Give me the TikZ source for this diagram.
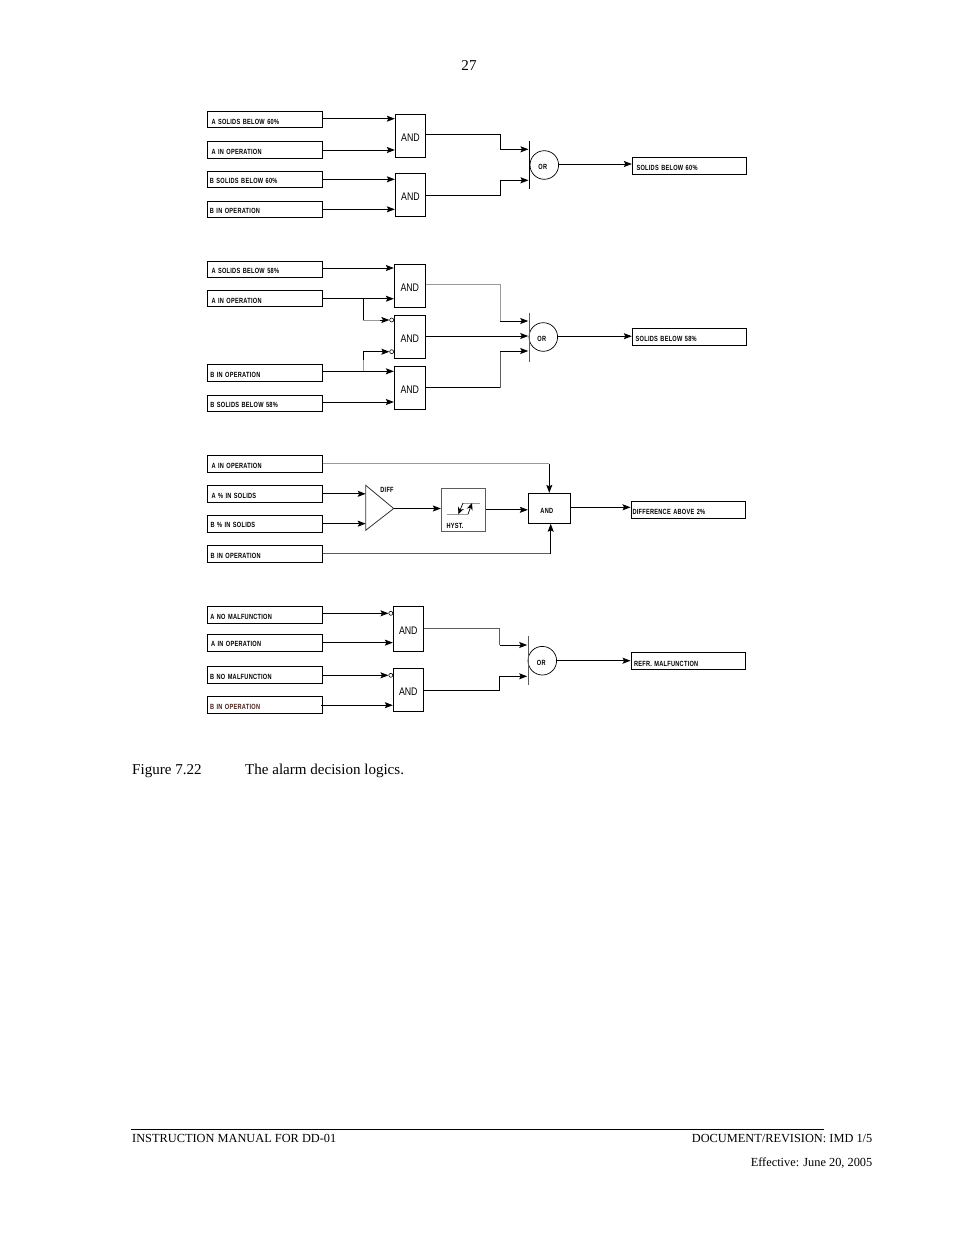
\documentclass[tikz,border=0pt]{standalone}
\usepackage{fontspec}
\setmainfont{Liberation Serif}
\newfontfamily\cadfont{Liberation Sans}[FakeStretch=0.75,LetterSpace=3.5]
\newfontfamily\gatefont{Liberation Sans}[FakeStretch=0.8]
\usetikzlibrary{arrows.meta,calc}
\definecolor{lightwire}{gray}{0.6}
\definecolor{midwire}{gray}{0.36}
\definecolor{brownish}{rgb}{0.28,0.12,0.10}
% name, x1, y1, x2, y2, text offset, text
\newcommand\tagbox[7]{%
  \pgfmathsetmacro\bw{#4-#2}\pgfmathsetmacro\bh{#5-#3}%
  \node[tagnode,minimum width=\bw pt,minimum height=\bh pt,text width=\bw pt] (#1) at ({(#2+#4)/2},{(#3+#5)/2}) {\hspace*{#6pt}#7};}
\newcommand\gatebox[5]{%
  \pgfmathsetmacro\bw{#4-#2}\pgfmathsetmacro\bh{#5-#3}%
  \node[gatenode,minimum width=\bw pt,minimum height=\bh pt] (#1) at ({(#2+#4)/2},{(#3+#5)/2}) {AND};}
\tikzset{
  cadtext/.style={font=\cadfont\bfseries\fontsize{7.5}{8}\selectfont},
  tagnode/.style={cadtext,draw=black,line width=0.9pt,inner xsep=0pt,inner ysep=0pt,align=left,text height=8.6pt,text depth=0pt},
  gatenode/.style={draw=black,line width=0.9pt,inner sep=0pt,text height=11.5pt,text depth=0pt,font=\gatefont\fontsize{11}{12}\selectfont},
  orgate/.style={cadtext,draw=black,line width=0.7pt,circle,inner sep=0pt,minimum size=28.6pt,text height=9.5pt,text depth=0pt},
  wire/.style={draw=black,line width=0.9pt,-{Stealth[length=8pt,width=6pt,inset=1.5pt]}},
  plainwire/.style={draw=black,line width=0.9pt},
  graywire/.style={draw=lightwire,line width=1pt},
  darkgray/.style={draw=midwire,line width=0.9pt},
  barline/.style={draw=black,line width=0.8pt},
  graybar/.style={draw=midwire,line width=0.9pt},
  bubble/.style={draw=black,line width=0.6pt,circle,inner sep=0pt,minimum size=4pt},
  page/.style={font=\fontsize{15.05}{16}\selectfont,inner sep=0pt},
  small/.style={font=\fontsize{12.35}{14}\selectfont,inner sep=0pt},
  hystline/.style={draw=lightwire,line width=1pt},
}
\begin{document}
\begin{tikzpicture}[x=1pt,y=-1pt]
\useasboundingbox (0,0) rectangle (954,1235);
% page text
\node[page] (pnum) at (469,66) {27};
\node[page,anchor=base west] (figno) at (132,774) {Figure 7.22};
\node[page,anchor=base west] (figcap) at (245,774) {The alarm decision logics.};
\coordinate (footl) at (131,1129);
\coordinate (footr) at (824,1129);
\draw[line width=0.8pt] (footl) -- (footr);
\node[small,anchor=base west] (foot1) at (132,1142) {INSTRUCTION MANUAL FOR DD-01};
\node[small,anchor=base east] (foot2) at (872.5,1142) {DOCUMENT/REVISION: IMD 1/5};
\node[small,anchor=base east] (foot3) at (872.5,1166) {Effective: June 20, 2005};

% ---- group 1
\tagbox{a1}{207.3}{111.7}{322.5}{127.7}{4.2}{A SOLIDS BELOW 60\%}
\tagbox{a2}{207.3}{141.7}{322.5}{158.3}{4.2}{A IN OPERATION}
\tagbox{a3}{207.3}{171.3}{322.5}{187.3}{2.6}{B SOLIDS BELOW 60\%}
\tagbox{a4}{207.3}{201.3}{322.5}{217.3}{2.6}{B IN OPERATION}
\gatebox{ga1}{395.3}{114.3}{425.7}{157.3}
\gatebox{ga2}{395.3}{173.3}{425.7}{216}
\node[orgate] (ora) at (544.3,165) {\hspace*{-3pt}OR};
\tagbox{oa}{632.3}{157.3}{746.7}{174.3}{4.2}{SOLIDS BELOW 60\%}
\coordinate (bartopa) at (529.3,140.7);
\coordinate (barbota) at (529.3,189.3);
\draw[barline] (bartopa) -- (barbota);
\coordinate (ina1) at (528.5,149.3);
\coordinate (ina2) at (528.5,180.3);
\draw[wire] ([yshift=1pt]a1.east) -- ([yshift=1pt]a1.east -| ga1.west);
\draw[wire] (a2.east) -- (a2.east -| ga1.west);
\draw[wire] (a3.east) -- (a3.east -| ga2.west);
\draw[wire] (a4.east) -- (a4.east -| ga2.west);
\draw[wire] ([yshift=1.8pt]ga1.east) -| (500.3,149.3) -- (ina1);
\draw[wire] ([yshift=-0.3pt]ga2.east) -| (500.3,180.3) -- (ina2);
\draw[wire] ([yshift=1pt]ora.east) -- ([yshift=1pt]ora.east -| oa.west);

% ---- group 2
\tagbox{b1}{207.3}{261.3}{322.5}{277.3}{4.2}{A SOLIDS BELOW 58\%}
\tagbox{b2}{207.3}{290.7}{322.5}{306.7}{4.2}{A IN OPERATION}
\tagbox{b3}{207.3}{364.7}{322.5}{381.3}{3}{B IN OPERATION}
\tagbox{b4}{207.3}{395.3}{322.5}{411.7}{3}{B SOLIDS BELOW 58\%}
\gatebox{gb1}{394.3}{264.3}{425.3}{307.3}
\gatebox{gb2}{394.3}{315.3}{425.3}{358.3}
\gatebox{gb3}{394.3}{366.3}{425.3}{409.3}
\node[bubble] (bu1) at (391.7,320) {};
\node[bubble] (bu2) at (391.7,351.7) {};
\node[orgate] (orb) at (543.3,337) {\hspace*{-3pt}OR};
\tagbox{ob}{632.3}{328.3}{746.7}{345.3}{3.4}{SOLIDS BELOW 58\%}
\coordinate (bartopb) at (529,312.7);
\coordinate (barbotb) at (529,361.7);
\draw[graybar] (bartopb) -- (barbotb);
\draw[wire] ([yshift=1.3pt]b1.east) -- ([yshift=1.3pt]b1.east -| gb1.west);
\draw[wire] (b2.east) -- (b2.east -| gb1.west);
\draw[wire] ([yshift=1.7pt]b3.east) -- ([yshift=1.7pt]b3.east -| gb3.west);
\draw[wire] ([yshift=1.5pt]b4.east) -- ([yshift=1.5pt]b4.east -| gb3.west);
\coordinate (j1) at (363.3,298.7);
\coordinate (j2) at (363.3,371.3);
\coordinate (j1g) at (380,320);
\coordinate (j2g) at (363.3,360);
\draw[plainwire] (j1) -- (j1 |- bu1);
\draw[graywire] (j1 |- bu1) -- (j1g);
\draw[wire] (j1g) -- (bu1.west);
\draw[graywire] (j2) -- (j2g);
\draw[plainwire] (j2g) -- (j2 |- bu2);
\draw[wire] (j2 |- bu2) -- (bu2.west);
\coordinate (inb1) at (528.2,321);
\coordinate (inb2) at (528.2,336);
\coordinate (inb3) at (528.2,351);
\coordinate (cb1) at (500,321);
\coordinate (cb3) at (500,351);
\draw[graywire] ([yshift=1.5pt]gb1.east) -| (cb1);
\draw[wire] (cb1) -- (inb1);
\draw[wire] ([yshift=0.8pt]gb2.east) -- (inb2);
\draw[plainwire] (gb3.east) -- (gb3.east -| cb3);
\draw[darkgray] (gb3.east -| cb3) -- (cb3);
\draw[wire] (cb3) -- (inb3);
\draw[wire] ([yshift=0.8pt]orb.east) -- ([yshift=0.8pt]orb.east -| ob.west);

% ---- group 3
\tagbox{c1}{207.3}{455.3}{322.5}{472.7}{4.2}{A IN OPERATION}
\tagbox{c2}{207.3}{485.3}{322.5}{502.3}{4.2}{A \% IN SOLIDS}
\tagbox{c3}{207.3}{515.3}{322.5}{532}{3.2}{B \% IN SOLIDS}
\tagbox{c4}{207.3}{545.3}{322.5}{562.7}{3.2}{B IN OPERATION}
\node[draw=black,line width=0.9pt,inner sep=0pt,minimum width=42pt,minimum height=30pt,cadtext,text height=10pt,text depth=0pt] (gc) at (549.3,508.3) {\hspace*{-5pt}AND};
\node[draw=midwire,line width=1pt,minimum width=43.7pt,minimum height=43pt,inner sep=0pt] (hy) at (463.2,509.8) {};
\node[cadtext,inner sep=0pt,anchor=base west] (hylab) at (446.3,528.5) {HYST.};
\node[cadtext,inner sep=0pt] (difflab) at (387,490) {DIFF};
\tagbox{oc}{631}{501.3}{745.7}{518.3}{1.5}{DIFFERENCE ABOVE 2\%}
\coordinate (tritop) at (365.7,485.3);
\coordinate (tribot) at (365.7,530.3);
\coordinate (tritip) at (393.7,508.5);
\draw[draw=black!80,line width=0.8pt] (tritop) -- (tritip) -- (tribot) -- cycle;
\draw[wire] (c2.east) -- (c2.east -| tritop);
\draw[wire] (c3.east) -- (c3.east -| tritop);
\draw[wire] (tritip) -- (tritip -| hy.west);
\draw[wire] (hy.east) -- (hy.east -| gc.west);
\coordinate (cdown) at (549.3,463.8);
\coordinate (cup) at (550.7,553.5);
\draw[graywire] (c1.east |- cdown) -- (cdown);
\draw[wire] (cdown) -- (cdown |- gc.north);
\draw[darkgray] (c4.east |- cup) -- (cup);
\draw[wire] (cup) -- (cup |- gc.south);
\draw[wire] ([yshift=1pt]gc.east) -- ([yshift=1pt]gc.east -| oc.west);
% hysteresis symbol
\coordinate (hA) at (447.3,514.3);
\coordinate (hB) at (458.3,514.3);
\coordinate (hC) at (468,514.3);
\coordinate (hD) at (463,503);
\coordinate (hE) at (472,503);
\coordinate (hF) at (480,503);
\draw[hystline] (hA) -- (hC);
\draw[hystline] (hD) -- (hF);
\draw[draw=black,line width=0.7pt,-{Stealth[length=7pt,width=6pt]}] (hD) -- (hB);
\draw[draw=black,line width=0.7pt,-{Stealth[length=7pt,width=6pt]}] (hC) -- (hE);

% ---- group 4
\tagbox{d1}{207.3}{606.3}{322.5}{623.3}{3}{A NO MALFUNCTION}
\tagbox{d2}{207.3}{634.3}{322.5}{651}{3.7}{A IN OPERATION}
\tagbox{d3}{207.3}{666.3}{322.5}{683.3}{2.7}{B NO MALFUNCTION}
\tagbox{d4}{207.3}{696.7}{322.5}{713.7}{2.7}{\textcolor{brownish}{B IN OPERATION}}
\gatebox{gd1}{393.3}{606.3}{423.3}{651.3}
\gatebox{gd2}{393.3}{668.7}{423.3}{711.7}
\node[bubble] (bu3) at (390.8,613.3) {};
\node[bubble] (bu4) at (390.8,675.3) {};
\node[orgate] (ord) at (542.3,660.7) {\hspace*{-2pt}OR};
\tagbox{od}{631}{652.3}{745.7}{669}{3}{\raisebox{-2pt}{REFR. MALFUNCTION}}
\coordinate (bartopd) at (528,636);
\coordinate (barbotd) at (528,685);
\draw[graybar] (bartopd) -- (barbotd);
\draw[wire] (d1.east |- bu3) -- (bu3.west);
\draw[wire] (d2.east) -- (d2.east -| gd1.west);
\draw[wire] (d3.east |- bu4) -- (bu4.west);
\draw[wire] ([xshift=-1.8pt]d4.east) -- (d4.east -| gd2.west);
\coordinate (cd1) at (499.7,645);
\coordinate (cd2) at (499.7,676.3);
\coordinate (ind1) at (527.2,645);
\coordinate (ind2) at (527.2,676.3);
\draw[darkgray] (gd1.east) -| (cd1);
\draw[wire] (cd1) -- (ind1);
\draw[plainwire] ([yshift=-0.1pt]gd2.east) -| (cd2);
\draw[wire] (cd2) -- (ind2);
\draw[wire] (ord.east) -- (ord.east -| od.west);
\end{tikzpicture}
\end{document}
